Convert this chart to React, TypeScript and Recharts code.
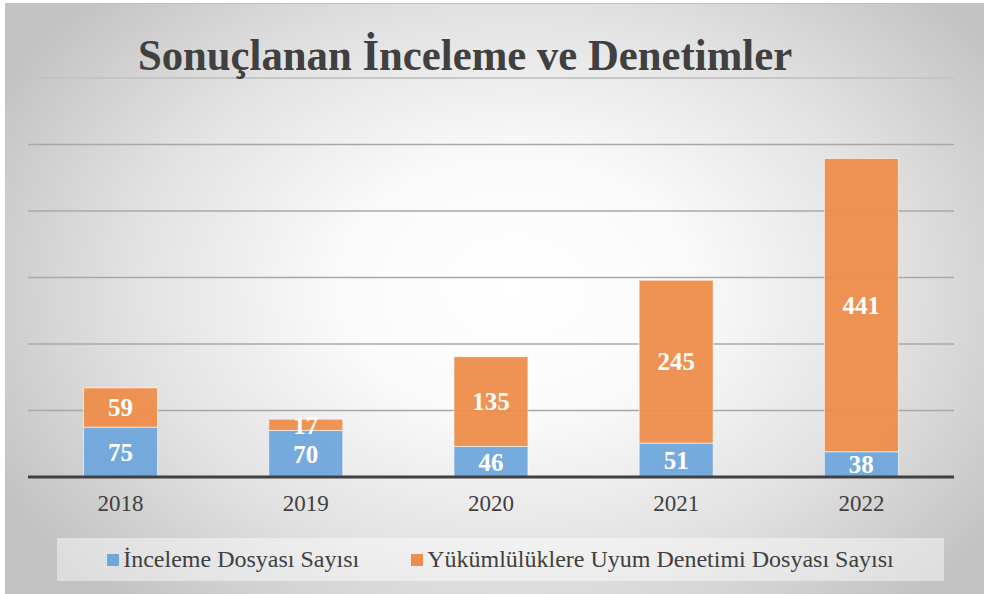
import React from "react";
import { BarChart, Bar, XAxis, YAxis, CartesianGrid, LabelList, ReferenceLine } from "recharts";

const YEARS = ["2018", "2019", "2020", "2021", "2022"];
const INCELEME = [75, 70, 46, 51, 38];
const UYUM = [59, 17, 135, 245, 441];
const Y_TICKS = [0, 100, 200, 300, 400, 500];
const Y_MAX = 600;

const BLUE = "#6fa7db";
const ORANGE = "#ee8d4b";
const INK = "#404040";
const SERIF = '"Liberation Serif", "DejaVu Serif", "Noto Serif", serif';

const data = YEARS.map((year, i) => ({
  year,
  inceleme: INCELEME[i],
  uyum: UYUM[i],
}));

const W = 979;
const H = 591;

export default function App() {
  return (
    <div
      style={{
        position: "absolute",
        left: 5,
        top: 3,
        width: W,
        height: H,
        borderTop: "1px solid #bdbdbd",
        background:
          "radial-gradient(ellipse 60% 72% at 52% 48%, #ffffff 0%, #fafafa 30%, #e2e2e2 65%, #c2c2c2 100%)",
        fontFamily: SERIF,
        overflow: "hidden",
      }}
    >
      <BarChart
        width={W}
        height={H}
        data={data}
        margin={{ top: 74, right: 30, left: 23, bottom: 78 }}
        barCategoryGap="30%"
      >
        <CartesianGrid vertical={false} stroke="#a8a8a8" strokeWidth={1.5} />
        <YAxis hide domain={[0, Y_MAX]} ticks={Y_TICKS} />
        <ReferenceLine y={Y_MAX} stroke="#d6d6d6" strokeWidth={1} />
        <XAxis
          dataKey="year"
          height={40}
          tickLine={false}
          axisLine={{ stroke: INK, strokeWidth: 3 }}
          tick={{ fill: INK, fontSize: 23, fontFamily: SERIF }}
          tickMargin={12}
        />
        <Bar
          dataKey="inceleme"
          stackId="a"
          fill={BLUE}
          fillOpacity={0.95}
          stroke="rgba(255,255,255,0.6)"
          strokeWidth={1}
          isAnimationActive={false}
        >
          <LabelList
            dataKey="inceleme"
            position="center"
            fill="#ffffff"
            style={{ fontSize: 25, fontWeight: 700, fontFamily: SERIF }}
          />
        </Bar>
        <Bar
          dataKey="uyum"
          stackId="a"
          fill={ORANGE}
          fillOpacity={0.95}
          stroke="rgba(255,255,255,0.6)"
          strokeWidth={1}
          isAnimationActive={false}
        >
          <LabelList
            dataKey="uyum"
            position="center"
            fill="#ffffff"
            style={{ fontSize: 25, fontWeight: 700, fontFamily: SERIF }}
          />
        </Bar>
      </BarChart>

      {/* title */}
      <div
        style={{
          position: "absolute",
          left: 0,
          width: 920,
          top: 25,
          textAlign: "center",
          fontSize: 45,
          fontWeight: 700,
          color: INK,
          lineHeight: "52px",
          transform: "scaleX(0.95)",
          transformOrigin: "460px 0",
          whiteSpace: "nowrap",
        }}
      >
        Sonuçlanan İnceleme ve Denetimler
      </div>

      {/* legend */}
      <div
        style={{
          position: "absolute",
          left: 52,
          top: 534,
          width: 887,
          height: 43,
          background: "rgba(255,255,255,0.45)",
          display: "flex",
          alignItems: "center",
          justifyContent: "center",
          gap: 52,
          fontSize: 24,
          color: INK,
        }}
      >
        {[
          { label: "İnceleme Dosyası Sayısı", color: BLUE },
          { label: "Yükümlülüklere Uyum Denetimi Dosyası Sayısı", color: ORANGE },
        ].map((l) => (
          <div key={l.label} style={{ display: "flex", alignItems: "center", gap: 4 }}>
            <span style={{ display: "inline-block", width: 12, height: 12, background: l.color }} />
            <span>{l.label}</span>
          </div>
        ))}
      </div>
    </div>
  );
}
